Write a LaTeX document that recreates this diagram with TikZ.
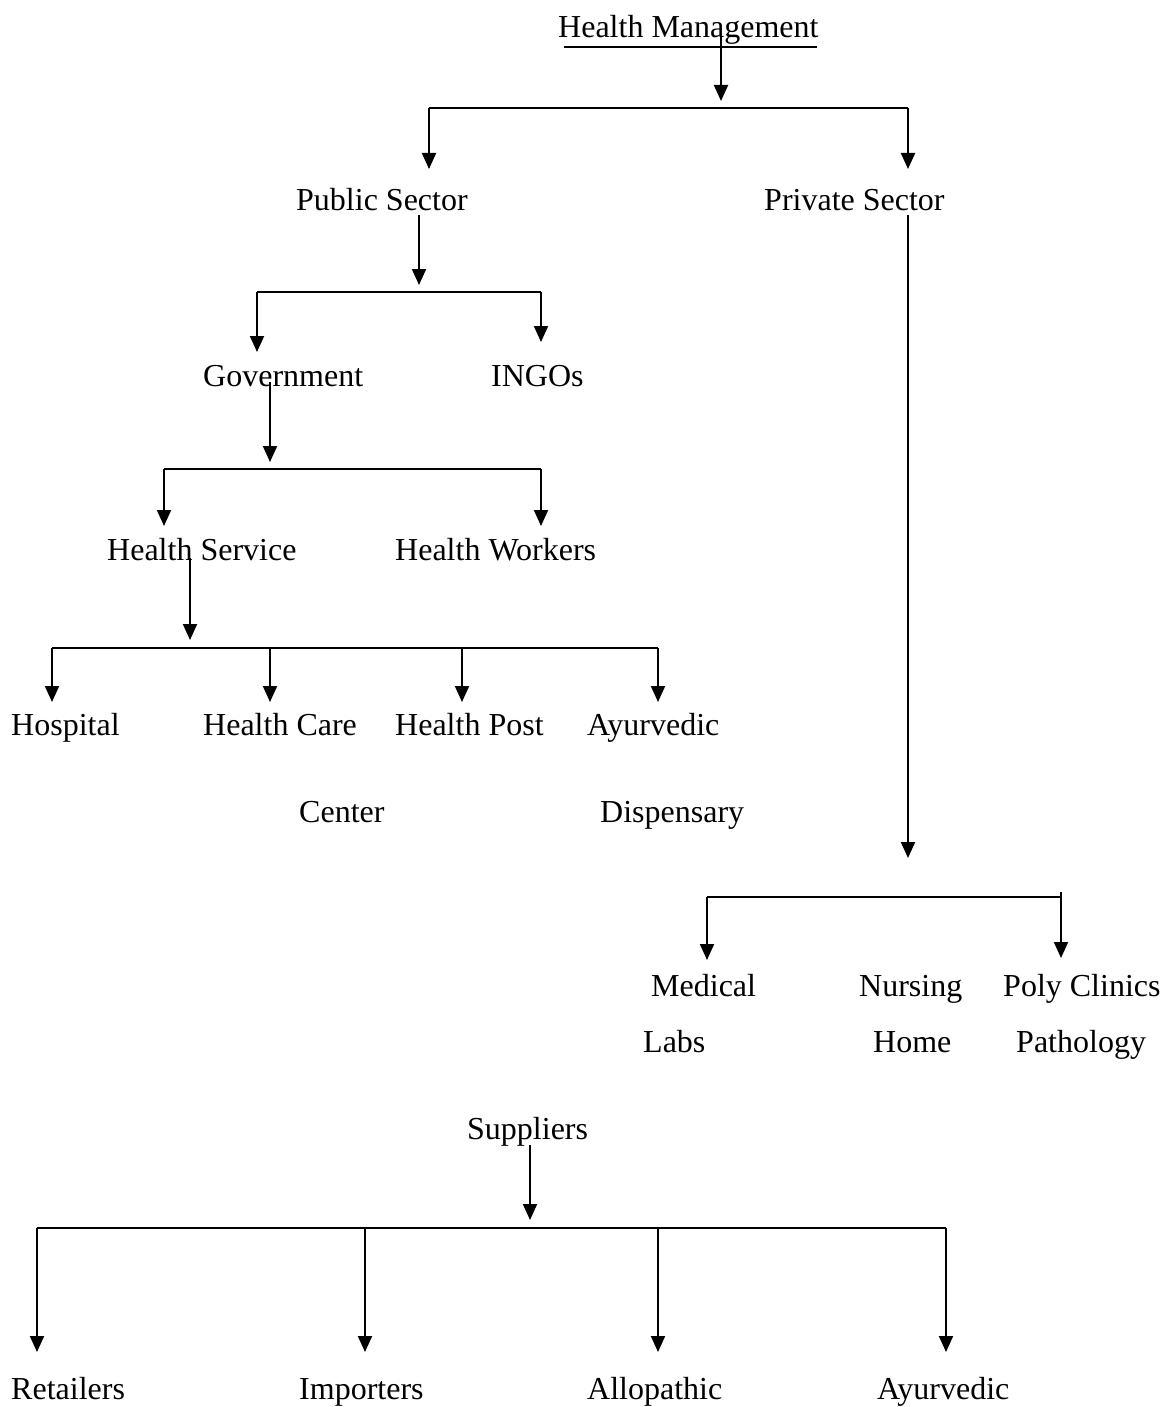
\documentclass[tikz,border=0pt]{standalone}
\usepackage{fontspec}
\setmainfont{Liberation Serif}
\usetikzlibrary{arrows.meta}
\newcommand{\lblfont}{\fontsize{32}{38}\selectfont}
\tikzset{
  lbl/.style={anchor=base west, inner sep=0pt, font=\lblfont},
  arr/.style={-{Triangle[length=16pt,width=14pt]}, line width=2pt},
  barline/.style={line width=2pt},
}
\begin{document}
\begin{tikzpicture}[x=1pt,y=-1pt]
\useasboundingbox (0,0) rectangle (1165,1407);
% texts
\node[lbl] (hm) at (558,38) {Health Management};
\node[lbl] (ps) at (296,211) {Public Sector};
\node[lbl] (pv) at (764,211) {Private Sector};
\node[lbl] (gov) at (203,386) {Government};
\node[lbl] (ingo) at (491,386) {INGOs};
\node[lbl] (hs) at (107,560) {Health Service};
\node[lbl] (hw) at (395,560) {Health Workers};
\node[lbl] (hosp) at (11,735) {Hospital};
\node[lbl] (hcc) at (203,735) {Health Care};
\node[lbl] (hcc2) at (299,822) {Center};
\node[lbl] (hp) at (395,735) {Health Post};
\node[lbl] (ayd) at (587,735) {Ayurvedic};
\node[lbl] (ayd2) at (600,822) {Dispensary};
\node[lbl] (ml) at (651,996) {Medical};
\node[lbl] (ml2) at (643,1052) {Labs};
\node[lbl] (nh) at (859,996) {Nursing};
\node[lbl] (nh2) at (873,1052) {Home};
\node[lbl] (pc) at (1003,996) {Poly Clinics};
\node[lbl] (pc2) at (1016,1052) {Pathology};
\node[lbl] (sup) at (467,1139) {Suppliers};
\node[lbl] (ret) at (11,1399) {Retailers};
\node[lbl] (imp) at (299,1399) {Importers};
\node[lbl] (allo) at (587,1399) {Allopathic};
\node[lbl] (ayu) at (877,1399) {Ayurvedic};

% underline of the title
\coordinate (ulL) at (564,47);
\coordinate (ulR) at (817,47);
\draw[line width=1.6pt] (ulL) -- (ulR);

% level 1
\coordinate (hm-out) at (721,35);
\coordinate (hm-in) at (721,101);
\coordinate (b1L) at (429,108);
\coordinate (b1R) at (908,108);
\coordinate (ps-in) at (429,169);
\coordinate (pv-in) at (908,169);
\draw[arr] (hm-out) -- (hm-in);
\draw[barline] (b1L) -- (b1R);
\draw[arr] (b1L) -- (ps-in);
\draw[arr] (b1R) -- (pv-in);

% public sector
\coordinate (ps-out) at (419,215);
\coordinate (ps-tip) at (419,285);
\coordinate (b2L) at (257,292);
\coordinate (b2R) at (541,292);
\coordinate (gov-in) at (257,352);
\coordinate (ingo-in) at (541,342);
\draw[arr] (ps-out) -- (ps-tip);
\draw[barline] (b2L) -- (b2R);
\draw[arr] (b2L) -- (gov-in);
\draw[arr] (b2R) -- (ingo-in);

% government
\coordinate (gov-out) at (270,382);
\coordinate (gov-tip) at (270,462);
\coordinate (b3L) at (164,469);
\coordinate (b3R) at (541,469);
\coordinate (hs-in) at (164,526);
\coordinate (hw-in) at (541,526);
\draw[arr] (gov-out) -- (gov-tip);
\draw[barline] (b3L) -- (b3R);
\draw[arr] (b3L) -- (hs-in);
\draw[arr] (b3R) -- (hw-in);

% health service
\coordinate (hs-out) at (190,558);
\coordinate (hs-tip) at (190,640);
\coordinate (b4a) at (52,648);
\coordinate (b4b) at (270,648);
\coordinate (b4c) at (462,648);
\coordinate (b4d) at (658,648);
\coordinate (hosp-in) at (52,702);
\coordinate (hcc-in) at (270,702);
\coordinate (hp-in) at (462,702);
\coordinate (ayd-in) at (658,702);
\draw[arr] (hs-out) -- (hs-tip);
\draw[barline] (b4a) -- (b4d);
\draw[arr] (b4a) -- (hosp-in);
\draw[arr] (b4b) -- (hcc-in);
\draw[arr] (b4c) -- (hp-in);
\draw[arr] (b4d) -- (ayd-in);

% private sector
\coordinate (pv-out) at (908,215);
\coordinate (pv-tip) at (908,858);
\coordinate (b5L) at (707,897);
\coordinate (b5R) at (1061,897);
\coordinate (b5T) at (1061,892);
\coordinate (ml-in) at (707,960);
\coordinate (pc-in) at (1061,958);
\draw[arr] (pv-out) -- (pv-tip);
\draw[barline] (b5L) -- (b5R);
\draw[arr] (b5T) -- (pc-in);
\draw[arr] (b5L) -- (ml-in);

% suppliers
\coordinate (sup-out) at (530,1145);
\coordinate (sup-tip) at (530,1220);
\coordinate (b6a) at (37,1228);
\coordinate (b6b) at (365,1228);
\coordinate (b6c) at (658,1228);
\coordinate (b6d) at (946,1228);
\coordinate (ret-in) at (37,1352);
\coordinate (imp-in) at (365,1352);
\coordinate (allo-in) at (658,1352);
\coordinate (ayu-in) at (946,1352);
\draw[arr] (sup-out) -- (sup-tip);
\draw[barline] (b6a) -- (b6d);
\draw[arr] (b6a) -- (ret-in);
\draw[arr] (b6b) -- (imp-in);
\draw[arr] (b6c) -- (allo-in);
\draw[arr] (b6d) -- (ayu-in);
\end{tikzpicture}
\end{document}
